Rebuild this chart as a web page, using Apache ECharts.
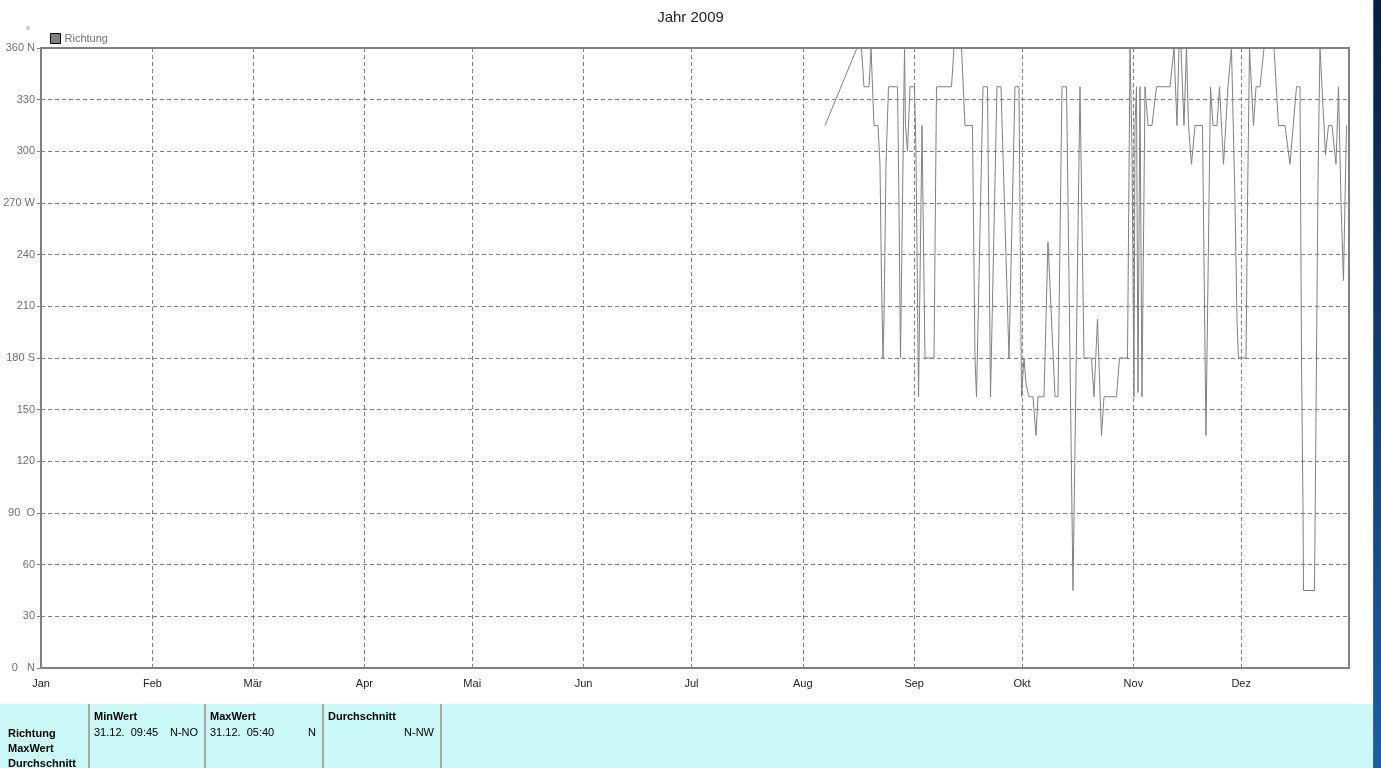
<!DOCTYPE html>
<html><head><meta charset="utf-8">
<script src="https://cdn.jsdelivr.net/npm/echarts@6/dist/echarts.min.js"></script>
<style>html,body{margin:0;padding:0;background:#fff;}#c{width:1381px;height:768px;}</style>
</head><body><div id="c"></div>
<script>
// Month starts (day of year) and labels
const monthStarts = [0,31,59,90,120,151,181,212,243,273,304,334];
const monthLabels = ['Jan','Feb','Mär','Apr','Mai','Jun','Jul','Aug','Sep','Okt','Nov','Dez'];
// Y tick labels (0..360 step 30)
const yTickLabels = ['0   N','30','60','90  O','120','150','180 S','210','240','270 W','300','330','360 N'];
// Day of year (fractional) and wind direction (deg)
const days = [218.18,227.09,228.33,229.03,230.42,230.98,231.25,231.81,232.92,233.48,233.90,234.32,234.60,235.15,235.85,238.36,238.76,239.18,239.60,240.02,240.30,240.58,241.14,241.42,241.83,243.08,243.50,244.20,245.17,246.00,248.51,249.21,253.38,254.07,256.17,257.13,259.22,259.92,260.34,262.15,263.40,264.23,266.04,267.16,269.38,271.05,272.16,272.86,273.56,274.11,274.94,276.06,276.89,277.45,279.12,280.23,282.19,283.01,284.13,285.39,287.19,289.14,290.25,292.34,293.03,294.01,295.12,295.82,299.30,300.13,302.36,303.06,303.62,304.16,304.44,304.86,305.28,305.83,306.39,307.23,308.06,309.17,310.43,314.19,315.30,316.13,316.69,317.25,318.08,318.77,319.33,320.17,321.14,323.23,324.20,325.46,326.15,327.26,327.96,329.08,330.32,331.30,331.72,332.28,332.83,333.24,335.34,335.76,336.31,337.42,338.12,339.23,340.35,343.13,344.38,346.19,347.58,349.39,350.36,350.78,351.20,351.34,354.40,354.54,354.82,355.09,355.37,355.65,355.93,356.48,357.46,358.30,359.26,360.38,361.08,361.78,362.46,362.88,363.30];
const richtung = [315,360,360,337.5,337.5,360,360,315,315,292.5,225,180,202.5,292.5,337.5,337.5,270,180,247.5,315,360,315,300,315,337.5,337.5,300,157.5,315,180,180,337.5,337.5,360,360,315,315,180,157.5,337.5,337.5,157.5,337.5,337.5,180,337.5,337.5,157.5,180,165,157.5,157.5,135,157.5,157.5,247.5,157.5,157.5,337.5,337.5,45,337.5,180,180,157.5,202.5,135,157.5,157.5,180,180,360,300,157.5,315,337.5,160,337.5,157.5,337.5,315,315,337.5,337.5,360,315,360,360,315,360,315,292.5,315,315,135,337.5,315,315,337.5,292.5,337.5,360,360,270,202.5,180,180,270,360,315,337.5,337.5,360,360,315,315,292.5,337.5,337.5,180,93,45,45,79,146,213,281,323,360,337.5,298,315,315,292.5,337.5,270,225,270,315];
// Table texts
const tableRowHeads = ['Richtung','MaxWert','Durchschnitt'];
const tableColHeads = ['MinWert','MaxWert','Durchschnitt'];
const tableTimes = ['31.12.  09:45','31.12.  05:40',''];
const tableDirs = ['N-NO','N','N-NW'];

const seriesData = days.map((d,i)=>[d, richtung[i]]);
const chart = echarts.init(document.getElementById('c'));
const gray = '#808080';
const font = 'Liberation Sans, Arial, sans-serif';
const colX = [89,205,323,441];
const graphics = [
  {type:'rect', shape:{x:0,y:704,width:1373,height:64}, style:{fill:'#c9f8f6'}, silent:true},
  {type:'rect', shape:{x:1373,y:0,width:8,height:768}, style:{fill:new echarts.graphic.LinearGradient(0,0,0,1,[{offset:0,color:'#0a1f3e'},{offset:1,color:'#1f5ca6'}])}},
  {type:'rect', shape:{x:1373,y:0,width:1,height:768}, style:{fill:'#2a6ac0'}},
  {type:'text', x:26, y:26, style:{text:'°', fill:gray, font:'10px '+font}}
];
colX.forEach(x=>graphics.push({type:'rect', shape:{x:x-1,y:704,width:2,height:64}, style:{fill:'#a8a8a8'}}));
tableRowHeads.forEach((t,i)=>graphics.push({type:'text', x:8, y:734+i*15, style:{text:t, fill:'#000', font:'bold 11px '+font, textVerticalAlign:'middle'}}));
tableColHeads.forEach((t,i)=>{
  graphics.push({type:'text', x:colX[i]+5, y:717, style:{text:t, fill:'#000', font:'bold 11px '+font, textVerticalAlign:'middle'}});
  if (tableTimes[i]) graphics.push({type:'text', x:colX[i]+5, y:733, style:{text:tableTimes[i], fill:'#000', font:'11px '+font, textVerticalAlign:'middle'}});
  graphics.push({type:'text', x:colX[i+1]-7, y:733, style:{text:tableDirs[i], fill:'#000', font:'11px '+font, textAlign:'right', textVerticalAlign:'middle'}});
});

chart.setOption({
  animation:false,
  backgroundColor:'#fff',
  title:{text:'Jahr 2009', left:'center', top:5, textStyle:{fontSize:15, fontWeight:'normal', color:'#222', fontFamily:font}},
  legend:{left:45, top:28, itemWidth:10, itemHeight:10, icon:'rect', itemGap:4,
    textStyle:{fontSize:11, color:'#707070', fontFamily:font, padding:[0,0,0,-1]},
    data:[{name:'Richtung', itemStyle:{color:gray, borderColor:'#000', borderWidth:1}}]},
  grid:{left:41, right:32, top:48, bottom:100, show:true, borderColor:gray, borderWidth:2},
  xAxis:{type:'value', min:0, max:364,
    axisLine:{show:true, lineStyle:{color:gray, width:2}},
    axisTick:{show:false, customValues:monthStarts},
    axisLabel:{customValues:monthStarts, margin:10, fontSize:11, color:'#222', fontFamily:font,
      formatter:v=>monthLabels[monthStarts.indexOf(v)] ?? ''},
    splitLine:{show:true, lineStyle:{color:gray, type:[4,3], width:1}}},
  yAxis:{type:'value', min:0, max:360, interval:30,
    axisLine:{show:true, lineStyle:{color:gray, width:2}},
    axisTick:{show:true, length:4, lineStyle:{color:gray}},
    axisLabel:{margin:6, fontSize:11, color:'#707070', fontFamily:font,
      formatter:v=>yTickLabels[Math.round(v/30)]},
    splitLine:{show:true, lineStyle:{color:gray, type:[4,3], width:1}}},
  series:[{name:'Richtung', type:'line', data:seriesData, showSymbol:false, symbol:'none',
    lineStyle:{color:gray, width:1}, itemStyle:{color:gray}, clip:true}],
  graphic:graphics
});
</script></body></html>
